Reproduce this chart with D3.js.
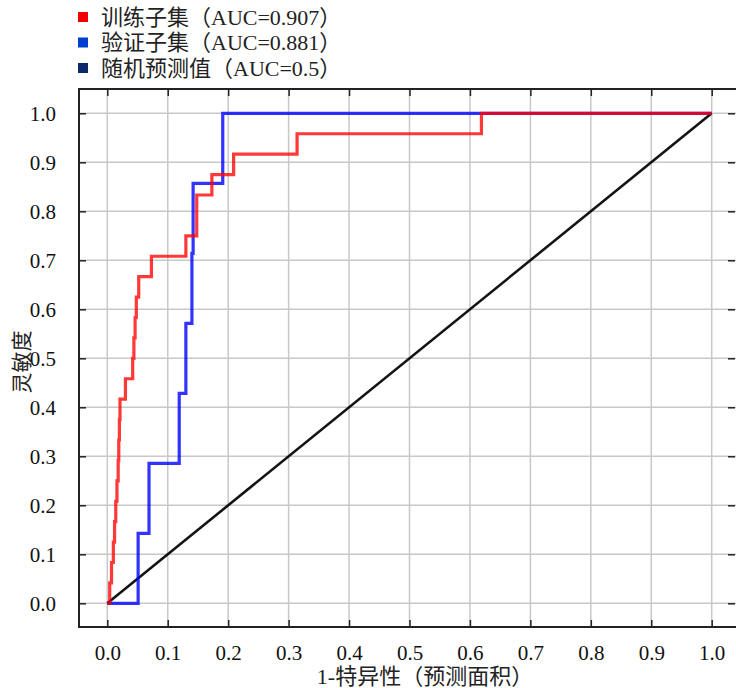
<!DOCTYPE html>
<html><head><meta charset="utf-8">
<script src="https://cdn.jsdelivr.net/npm/d3@7"></script>
<style>
html,body{margin:0;padding:0;background:#fff;}
svg{display:block;}
text{font-family:"Liberation Serif","Times New Roman","Noto Sans CJK SC",serif;}
</style></head>
<body>
<svg id="chart" width="736" height="688"></svg>
<script>
// ---- data ----
const ticks = [0,0.1,0.2,0.3,0.4,0.5,0.6,0.7,0.8,0.9,1.0];
const tickLabels = ["0.0","0.1","0.2","0.3","0.4","0.5","0.6","0.7","0.8","0.9","1.0"];
const legendLabels = ["训练子集（AUC=0.907）","验证子集（AUC=0.881）","随机预测值（AUC=0.5）"];
const xTitle = "1-特异性（预测面积）";
const yTitle = "灵敏度";
// training ROC (fpr, tpr)
const trainFpr = [0,0.004,0.004,0.007,0.007,0.010,0.010,0.012,0.012,0.014,0.014,0.016,0.016,0.018,0.018,0.019,0.019,0.020,0.020,0.021,0.021,0.030,0.030,0.042,0.042,0.044,0.044,0.046,0.046,0.048,0.048,0.052,0.052,0.073,0.073,0.130,0.130,0.148,0.148,0.148,0.148,0.173,0.173,0.209,0.209,0.314,0.314,0.619,0.619,1.0];
const trainTpr = [0,0,0.0417,0.0417,0.0833,0.0833,0.125,0.125,0.1667,0.1667,0.2083,0.2083,0.25,0.25,0.2917,0.2917,0.3333,0.3333,0.375,0.375,0.4167,0.4167,0.4583,0.4583,0.5,0.5,0.5417,0.5417,0.5833,0.5833,0.625,0.625,0.6667,0.6667,0.7083,0.7083,0.75,0.75,0.7917,0.7917,0.8333,0.8333,0.875,0.875,0.9167,0.9167,0.9583,0.9583,1.0,1.0];
// validation ROC
const validFpr = [0,0.051,0.051,0.069,0.069,0.119,0.119,0.130,0.130,0.140,0.140,0.142,0.142,0.191,0.191,1.0];
const validTpr = [0,0,0.1429,0.1429,0.2857,0.2857,0.4286,0.4286,0.5714,0.5714,0.7143,0.7143,0.8571,0.8571,1.0,1.0];
const randFpr = [0,1];
const randTpr = [0,1];
const seriesColors = ["#ff0000","#0000ff","#000000"];
const legendColors = ["#f00000","#0040d0","#0a2a6a"];

// ---- layout ----
const svg = d3.select("#chart");
const frame = {left:79, top:89, right:737, bottom:627};
const x = d3.scaleLinear().domain([0,1]).range([107.3,711.7]);
const y = d3.scaleLinear().domain([0,1]).range([603.3,113.3]);

// grid
const grid = svg.append("g").attr("stroke","#c8c8c8").attr("stroke-width",1.5);
ticks.forEach(t=>{
  grid.append("line").attr("x1",x(t)).attr("x2",x(t)).attr("y1",frame.top).attr("y2",frame.bottom);
  grid.append("line").attr("y1",y(t)).attr("y2",y(t)).attr("x1",frame.left).attr("x2",frame.right);
});

// axes (inward ticks)
const xb = svg.append("g").attr("transform",`translate(0,${frame.bottom})`)
  .call(d3.axisBottom(x).tickValues(ticks).tickSize(-7).tickPadding(18).tickFormat(d=>tickLabels[ticks.indexOf(d)]));
const xt = svg.append("g").attr("transform",`translate(0,${frame.top})`)
  .call(d3.axisTop(x).tickValues(ticks).tickSize(-7).tickFormat(""));
const yl = svg.append("g").attr("transform",`translate(${frame.left},0)`)
  .call(d3.axisLeft(y).tickValues(ticks).tickSize(-7).tickPadding(23).tickFormat(d=>tickLabels[ticks.indexOf(d)]));
const yr = svg.append("g").attr("transform",`translate(${frame.right-2},0)`)
  .call(d3.axisRight(y).tickValues(ticks).tickSize(-7).tickFormat(""));
[xb,xt,yl,yr].forEach(g=>{
  g.select(".domain").remove();
  g.selectAll(".tick line").attr("stroke","#222").attr("stroke-width",1.5);
  g.selectAll(".tick text").attr("font-size",21).attr("fill","#111")
   .style("font-family","'Liberation Serif','Times New Roman',serif");
});
// frame
svg.append("path").attr("d",`M${frame.right},${frame.top}H${frame.left}V${frame.bottom}H${frame.right}`)
  .attr("fill","none").attr("stroke","#222").attr("stroke-width",2);

// lines
const line = d3.line().x(d=>x(d[0])).y(d=>y(d[1]));
const zip = (a,b)=>a.map((v,i)=>[v,b[i]]);
svg.append("path").datum(zip(randFpr,randTpr)).attr("d",line)
  .attr("fill","none").attr("stroke",seriesColors[2]).attr("stroke-width",2.6).attr("opacity",0.92);
svg.append("path").datum(zip(validFpr,validTpr)).attr("d",line)
  .attr("fill","none").attr("stroke",seriesColors[1]).attr("stroke-width",3.2).attr("stroke-opacity",0.8);
svg.append("path").datum(zip(trainFpr,trainTpr)).attr("d",line)
  .attr("fill","none").attr("stroke",seriesColors[0]).attr("stroke-width",3.2).attr("stroke-opacity",0.78);

// legend
const lg = svg.append("g");
legendLabels.forEach((s,i)=>{
  const cy = 17 + i*25.5;
  lg.append("rect").attr("x",78).attr("y",cy-5).attr("width",10).attr("height",10).attr("fill",legendColors[i]);
  lg.append("text").attr("x",101).attr("y",cy).attr("dy","0.35em").attr("font-size",22).attr("fill","#222").text(s);
});

// titles
svg.append("text").attr("x",425).attr("y",676).attr("dy","0.35em").attr("text-anchor","middle")
  .attr("font-size",22).attr("fill","#222").text(xTitle);
svg.append("text").attr("transform","translate(22,362) rotate(-90)").attr("dy","0.35em")
  .attr("text-anchor","middle").attr("font-size",21).attr("fill","#222").text(yTitle);
</script>
</body></html>
